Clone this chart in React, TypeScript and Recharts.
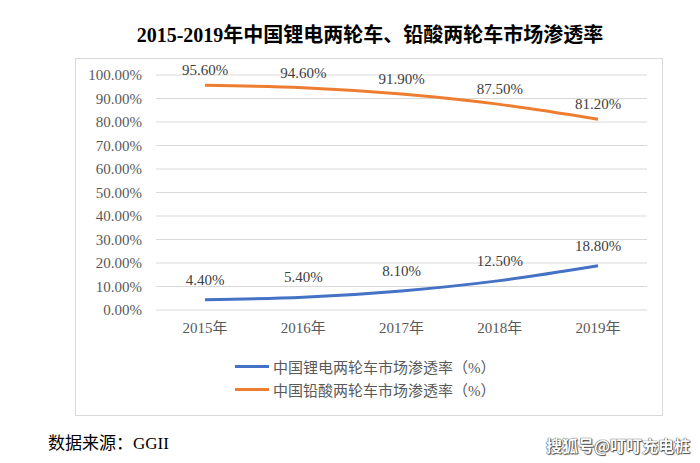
import React from 'react';
import { LineChart, Line, XAxis, YAxis, CartesianGrid, Legend, LabelList } from 'recharts';

const years = ['2015年', '2016年', '2017年', '2018年', '2019年'];
const lithium = [4.4, 5.4, 8.1, 12.5, 18.8];
const leadAcid = [95.6, 94.6, 91.9, 87.5, 81.2];
const yTicks = [0, 10, 20, 30, 40, 50, 60, 70, 80, 90, 100];

const seriesOrder = ['lithium', 'leadAcid'];
const seriesNames = {
  lithium: '中国锂电两轮车市场渗透率（%）',
  leadAcid: '中国铅酸两轮车市场渗透率（%）',
};

const data = years.map((year, i) => ({
  year,
  lithium: lithium[i],
  leadAcid: leadAcid[i],
}));

const FONT = "'Liberation Serif', 'Noto Sans CJK SC', serif";
const pct = (v: number) => `${v.toFixed(2)}%`;

function LegendBox({ payload }: any) {
  const items = [...(payload || [])].sort(
    (a: any, b: any) => seriesOrder.indexOf(a.dataKey) - seriesOrder.indexOf(b.dataKey)
  );
  return (
    <div style={{ fontFamily: FONT, fontSize: 15, color: '#595959' }}>
      {items.map((p: any) => (
        <div key={p.value} style={{ display: 'flex', alignItems: 'center', height: 23 }}>
          <span style={{ width: 34, height: 3, background: p.color, marginRight: 4 }} />
          <span>{p.value}</span>
        </div>
      ))}
    </div>
  );
}

export default function App() {
  return (
    <div style={{ position: 'relative', width: 700, height: 463, background: '#fff', fontFamily: FONT }}>
      <style>{'body{margin:0}'}</style>
      <div
        style={{
          position: 'absolute',
          top: 19,
          left: 0,
          width: 740,
          textAlign: 'center',
          fontSize: 20,
          fontWeight: 'bold',
          color: '#000',
        }}
      >
        2015-2019年中国锂电两轮车、铅酸两轮车市场渗透率
      </div>
      <div
        style={{
          position: 'absolute',
          left: 75,
          top: 58,
          width: 586,
          height: 356,
          border: '1.5px solid #d9d9d9',
        }}
      />
      <div style={{ position: 'absolute', left: 0, top: 0 }}>
        <LineChart width={700} height={463} data={data} margin={{ top: 75, right: 53, bottom: 123, left: 76 }}>
          <CartesianGrid vertical={false} stroke="#d9d9d9" strokeWidth={1.2} />
          <XAxis
            dataKey="year"
            axisLine={false}
            tickLine={false}
            padding={{ left: 49, right: 49 }}
            tickMargin={6}
            tick={{ fontSize: 15, fill: '#595959', fontFamily: FONT }}
          />
          <YAxis
            width={80}
            domain={[0, 100]}
            ticks={yTicks}
            axisLine={false}
            tickLine={false}
            tickMargin={8}
            tickFormatter={pct}
            tick={{ fontSize: 15, fill: '#595959', fontFamily: FONT }}
          />
          <Legend
            layout="horizontal"
            verticalAlign="middle"
            align="center"
            wrapperStyle={{ left: 235, top: 355, width: 300 }}
            content={<LegendBox />}
          />
          <Line
            type="monotone"
            dataKey="lithium"
            name={seriesNames.lithium}
            stroke="#4472C4"
            strokeWidth={3}
            dot={false}
            isAnimationActive={false}
          >
            <LabelList dataKey="lithium" position="top" offset={15} formatter={(v: any) => pct(v)} style={{ fontSize: 15, fill: '#404040', fontFamily: FONT }} />
          </Line>
          <Line
            type="monotone"
            dataKey="leadAcid"
            name={seriesNames.leadAcid}
            stroke="#ED7D31"
            strokeWidth={3}
            dot={false}
            isAnimationActive={false}
          >
            <LabelList dataKey="leadAcid" position="top" offset={10} formatter={(v: any) => pct(v)} style={{ fontSize: 15, fill: '#404040', fontFamily: FONT }} />
          </Line>
        </LineChart>
      </div>
      <div style={{ position: 'absolute', left: 48, top: 429, fontSize: 17, color: '#000' }}>数据来源：GGII</div>
      <div
        style={{
          position: 'absolute',
          left: 546,
          top: 433,
          fontSize: 16,
          fontWeight: 'bold',
          color: '#fff',
          fontFamily: "'Noto Sans CJK SC', sans-serif",
          textShadow: '0 0 1px #333, 0 0 1px #333, 1px 1px 1px #555',
        }}
      >
        搜狐号@叮叮充电桩
      </div>
    </div>
  );
}
